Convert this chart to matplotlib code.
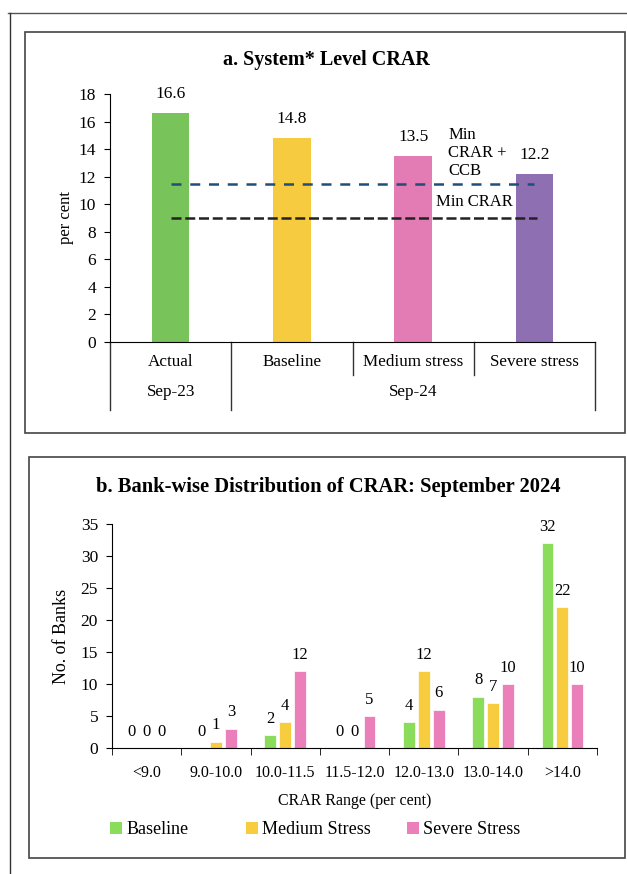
import matplotlib
matplotlib.use("Agg")
import matplotlib.pyplot as plt
from matplotlib.patches import Rectangle, Patch
from matplotlib.lines import Line2D
import matplotlib.transforms as mtransforms
import numpy as np

plt.rcParams["font.family"] = ["Liberation Serif", "DejaVu Serif"]

# panel a data
a_categories = ["Actual", "Baseline", "Medium stress", "Severe stress"]
a_values = [16.6, 14.8, 13.5, 12.2]
a_colors = ["#78C45B", "#F6CB40", "#E37CB4", "#8E6FB1"]
min_crar_ccb = 11.5
min_crar = 9.0

# panel b data
b_ranges = ["<9.0", "9.0-10.0", "10.0-11.5", "11.5-12.0", "12.0-13.0", "13.0-14.0", ">14.0"]
b_baseline = [0, 0, 2, 0, 4, 8, 32]
b_medium = [0, 1, 4, 0, 12, 7, 22]
b_severe = [0, 3, 12, 5, 6, 10, 10]
b_series = [("Baseline", b_baseline, "#8ADC5A"),
            ("Medium Stress", b_medium, "#F7CC3F"),
            ("Severe Stress", b_severe, "#EB7FB9")]

W, H = 627, 874
fig = plt.figure(figsize=(W / 100, H / 100), dpi=100)


def fx(px):
    return px / W


def fy(py):
    return 1 - py / H


def box(x0, y0, x1, y1):
    fig.patches.append(Rectangle((fx(x0), fy(y1)), fx(x1 - x0), (y1 - y0) / H,
                                 transform=fig.transFigure, fill=False,
                                 edgecolor="#444444", linewidth=1.2))


# outer frame lines and panel boxes
fig.lines.append(Line2D([fx(8), fx(627)], [fy(13), fy(13)], transform=fig.transFigure,
                        color="#555555", linewidth=1.0))
fig.lines.append(Line2D([fx(10), fx(10)], [fy(13), fy(874)], transform=fig.transFigure,
                        color="#333333", linewidth=1.0))
box(25, 32, 625, 433)
box(29, 457, 625, 858)

# ---- panel a ----
ax = fig.add_axes([fx(110), fy(342), fx(595 - 110), (342 - 94) / H])
x = np.arange(len(a_categories))
ax.bar(x, a_values, width=0.31, color=a_colors)
for xi, v in zip(x, a_values):
    ax.annotate(f"{v}", (xi, v), xytext=(0, 8), textcoords="offset points",
                ha="center", va="bottom", fontsize=12.5)
ax.plot([0, 3], [min_crar_ccb, min_crar_ccb], color="#1F4E79", linestyle=(0, (4, 3.5)),
        linewidth=1.8)
ax.plot([0, 3.02], [min_crar, min_crar], color="#222222", linestyle=(0, (4, 1.5)),
        linewidth=1.8)
ax.text(2.29, 15.6, "Min\nCRAR +\nCCB", fontsize=12, va="top", ha="left", linespacing=1.15)
ax.text(2.19, 9.6, "Min CRAR", fontsize=12, va="bottom", ha="left")
ax.set_xlim(-0.5, 3.5)
ax.set_ylim(0, 18)
ax.set_yticks(range(0, 19, 2))
ax.tick_params(axis="y", direction="out", length=4, labelsize=12.5, pad=6)
ax.set_xticks([])
for s in ("top", "right"):
    ax.spines[s].set_visible(False)
ax.set_ylabel("per cent", fontsize=12, labelpad=3)
trans = mtransforms.blended_transform_factory(ax.transData, ax.transAxes)
for xs, depth in ((-0.5, 68), (0.5, 68), (1.5, 33), (2.5, 33), (3.5, 68)):
    ax.plot([xs, xs], [0, -depth / 248], transform=trans, color="#333333",
            linewidth=1.0, clip_on=False)
for xi, lab in zip(x, a_categories):
    ax.text(xi, -20 / 248, lab, transform=trans, ha="center", va="center", fontsize=12.3)
ax.text(0, -50 / 248, "Sep-23", transform=trans, ha="center", va="center", fontsize=12.3)
ax.text(2, -50 / 248, "Sep-24", transform=trans, ha="center", va="center", fontsize=12.3)
fig.text(fx(326), fy(60), "a. System* Level CRAR", ha="center", va="center",
         fontsize=14.5, fontweight="bold")

# ---- panel b ----
bx = fig.add_axes([fx(112), fy(748), fx(597 - 112), (748 - 524) / H])
xb = np.arange(len(b_ranges))
step, bw = 0.215, 0.17
handles = []
for i, (name, vals, col) in enumerate(b_series):
    pos = xb + (i - 1) * step
    bx.bar(pos, vals, width=bw, color=col, edgecolor="white", linewidth=0.5)
    for p, v in zip(pos, vals):
        bx.annotate(f"{v}", (p, v), xytext=(0, 6), textcoords="offset points",
                    ha="center", va="bottom", fontsize=12)
    handles.append(Patch(facecolor=col, label=name))
bx.set_xlim(-0.5, 6.5)
bx.set_ylim(0, 35)
bx.set_yticks(range(0, 36, 5))
bx.set_xticks(xb)
bx.set_xticklabels(b_ranges, fontsize=11.5)
bx.set_xticks(np.arange(-0.5, 7, 1), minor=True)
bx.tick_params(axis="x", which="major", length=0, pad=12)
bx.tick_params(axis="x", which="minor", direction="out", length=5)
bx.tick_params(axis="y", direction="out", length=4, labelsize=12.5, pad=6)
for s in ("top", "right"):
    bx.spines[s].set_visible(False)
bx.set_ylabel("No. of Banks", fontsize=13, labelpad=8)
bx.set_xlabel("CRAR Range (per cent)", fontsize=11.5, labelpad=9)

# legend entries sit in equal-width columns like the original
for handle, left_px in zip(handles, (110, 246, 407)):
    leg = fig.legend(handles=[handle], loc="center left",
                     bbox_to_anchor=(fx(left_px), fy(830)), frameon=False, fontsize=13,
                     handlelength=0.65, handleheight=0.65, handletextpad=0.25,
                     borderpad=0, borderaxespad=0)

fig.text(fx(328), fy(487), "b. Bank-wise Distribution of CRAR: September 2024",
         ha="center", va="center", fontsize=14.8, fontweight="bold")

fig.savefig("out.png", dpi=100)
